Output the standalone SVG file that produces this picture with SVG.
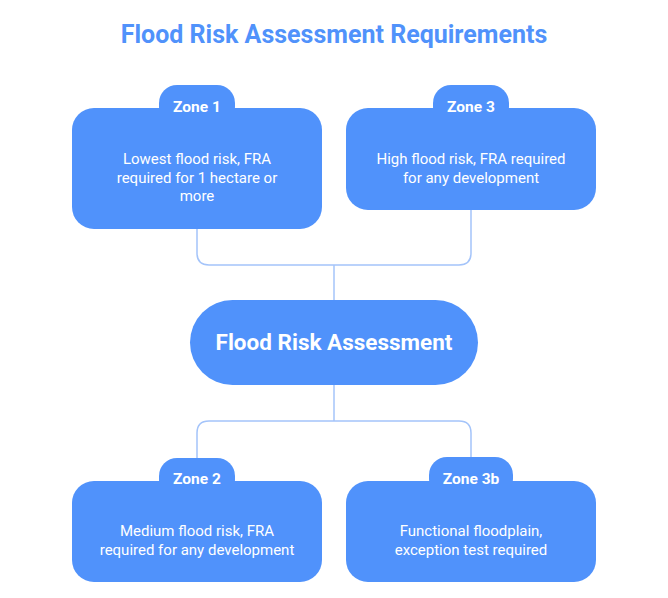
<svg xmlns="http://www.w3.org/2000/svg" width="668" height="598" viewBox="0 0 668 598">
<style>
.box{fill:#5092FB}
.conn{fill:none;stroke:#A4C4FA;stroke-width:1.5}
.tab{font-family:Roboto,"Liberation Sans",sans-serif;font-weight:700;font-size:15.5px;fill:#fff;text-anchor:middle}
.body{font-family:Roboto,"Liberation Sans",sans-serif;font-size:15px;fill:#fff;text-anchor:middle}
.title{font-family:Roboto,"Liberation Sans",sans-serif;font-weight:700;font-size:25px;fill:#5092FB;text-anchor:middle}
.main{font-family:Roboto,"Liberation Sans",sans-serif;font-weight:700;font-size:22.5px;fill:#fff;text-anchor:middle}
</style>
<rect width="668" height="598" fill="#fff"/>
<text class="title" x="334" y="43">Flood Risk Assessment Requirements</text>
<g id="connectors">
<path class="conn" d="M197 229 V253 Q197 265 209 265 H459 Q471 265 471 253 V210"/>
<path class="conn" d="M334 265 V300"/>
<path class="conn" d="M334 385 V421"/>
<path class="conn" d="M197 460 V433 Q197 421 209 421 H459 Q471 421 471 433 V458"/>
</g>
<g id="zone1">
<rect class="box" x="159" y="85" width="76" height="40" rx="18"/>
<rect class="box" x="72" y="108" width="250" height="121" rx="22"/>
<text class="tab" x="197" y="112">Zone 1</text>
<text class="body" x="197" y="164">Lowest flood risk, FRA</text>
<text class="body" x="197" y="183">required for 1 hectare or</text>
<text class="body" x="197" y="201">more</text>
</g>
<g id="zone3">
<rect class="box" x="433" y="85" width="76" height="40" rx="18"/>
<rect class="box" x="346" y="108" width="250" height="102" rx="22"/>
<text class="tab" x="471" y="112">Zone 3</text>
<text class="body" x="471" y="164">High flood risk, FRA required</text>
<text class="body" x="471" y="183">for any development</text>
</g>
<g id="main">
<rect class="box" x="190" y="300" width="288" height="85" rx="42.5"/>
<text class="main" x="334" y="350">Flood Risk Assessment</text>
</g>
<g id="zone2">
<rect class="box" x="159" y="458" width="76" height="40" rx="18"/>
<rect class="box" x="72" y="481" width="250" height="101" rx="22"/>
<text class="tab" x="197" y="484">Zone 2</text>
<text class="body" x="197" y="536">Medium flood risk, FRA</text>
<text class="body" x="197" y="555">required for any development</text>
</g>
<g id="zone3b">
<rect class="box" x="429" y="457" width="84" height="40" rx="18"/>
<rect class="box" x="346" y="481" width="250" height="101" rx="22"/>
<text class="tab" x="471" y="484">Zone 3b</text>
<text class="body" x="471" y="536">Functional floodplain,</text>
<text class="body" x="471" y="555">exception test required</text>
</g>
</svg>
